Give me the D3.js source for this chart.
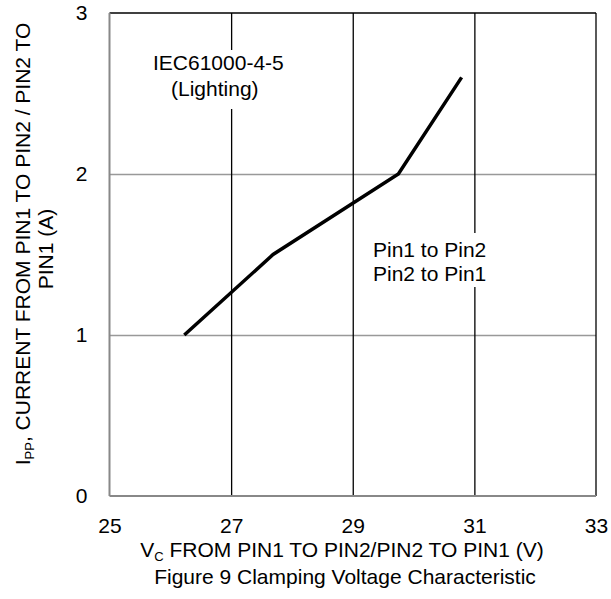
<!DOCTYPE html>
<html>
<head>
<meta charset="utf-8">
<script src="https://cdn.jsdelivr.net/npm/d3@7"></script>
<style>
  body { margin: 0; background: #fff; }
  text { font-family: "Liberation Sans", Arial, sans-serif; fill: #000; }
</style>
</head>
<body>
<svg id="chart" width="611" height="599"></svg>
<script>
// values
const vc = [26.23, 27.69, 29.75, 30.79];
const ipp = [1.0, 1.5, 2.0, 2.6];
const xTicks = [25, 27, 29, 31, 33];
const yTicks = [0, 1, 2, 3];

const width = 611, height = 599;
const margin = {top: 13, right: 15, bottom: 103, left: 109.5};

const svg = d3.select("#chart");

const x = d3.scaleLinear()
    .domain([25, 33])
    .range([margin.left, width - margin.right]);

const y = d3.scaleLinear()
    .domain([0, 3])
    .range([height - margin.bottom, margin.top]);

// horizontal grid, grey
svg.append("g")
    .attr("transform", `translate(${margin.left},0)`)
    .call(d3.axisLeft(y).tickValues([1, 2]).tickSize(-(x(33) - x(25))).tickFormat(""))
    .call(g => g.select(".domain").remove())
    .call(g => g.selectAll(".tick line").attr("stroke", "#999").attr("stroke-width", 1.6));

// vertical grid, black
svg.append("g")
    .attr("transform", `translate(0,${margin.top})`)
    .call(d3.axisTop(x).tickValues([27, 29, 31]).tickSize(-(y(0) - y(3))).tickFormat(""))
    .call(g => g.select(".domain").remove())
    .call(g => g.selectAll(".tick line").attr("stroke", "#000").attr("stroke-width", 1.3));

// frame: top and right black, left and bottom grey
svg.append("line")
    .attr("x1", x(25)).attr("x2", x(33)).attr("y1", y(3)).attr("y2", y(3))
    .attr("stroke", "#000").attr("stroke-width", 1.3);
svg.append("line")
    .attr("x1", x(33)).attr("x2", x(33)).attr("y1", y(3)).attr("y2", y(0))
    .attr("stroke", "#000").attr("stroke-width", 1.3);
svg.append("line")
    .attr("x1", x(25)).attr("x2", x(25)).attr("y1", y(3)).attr("y2", y(0))
    .attr("stroke", "#888").attr("stroke-width", 2);
svg.append("line")
    .attr("x1", x(25)).attr("x2", x(33)).attr("y1", y(0)).attr("y2", y(0))
    .attr("stroke", "#888").attr("stroke-width", 2);

// tick labels
svg.append("g")
    .attr("transform", `translate(0,${y(0)})`)
    .call(d3.axisBottom(x).tickValues(xTicks).tickSize(0).tickPadding(22))
    .call(g => g.select(".domain").remove())
    .call(g => g.selectAll("text").attr("font-size", 21).attr("font-family", "Liberation Sans, Arial, sans-serif"));

svg.append("g")
    .attr("transform", `translate(${margin.left},0)`)
    .call(d3.axisLeft(y).tickValues(yTicks).tickFormat(d3.format("d")).tickSize(0).tickPadding(22))
    .call(g => g.select(".domain").remove())
    .call(g => g.selectAll("text").attr("font-size", 21).attr("font-family", "Liberation Sans, Arial, sans-serif"));

// annotations with white boxes over the grid
svg.append("rect").attr("x", 150).attr("y", 50).attr("width", 140).attr("height", 59).attr("fill", "#fff");
svg.append("text").attr("x", 153).attr("y", 70).attr("font-size", 21).text("IEC61000-4-5");
svg.append("text").attr("x", 171).attr("y", 96).attr("font-size", 21).text("(Lighting)");

svg.append("rect").attr("x", 370).attr("y", 233).attr("width", 122).attr("height", 54).attr("fill", "#fff");
svg.append("text").attr("x", 373).attr("y", 256.5).attr("font-size", 21).text("Pin1 to Pin2");
svg.append("text").attr("x", 373).attr("y", 280.5).attr("font-size", 21).text("Pin2 to Pin1");

// curve
const pts = vc.map((v, i) => [v, ipp[i]]);
svg.append("path")
    .datum(pts)
    .attr("fill", "none")
    .attr("stroke", "#000")
    .attr("stroke-width", 3.5)
    .attr("d", d3.line().x(d => x(d[0])).y(d => y(d[1])));

// x title
const xt = svg.append("text").attr("x", 342).attr("y", 557).attr("font-size", 21).attr("text-anchor", "middle");
xt.append("tspan").text("V");
xt.append("tspan").attr("font-size", 13).attr("dy", 4).text("C");
xt.append("tspan").attr("dy", -4).text(" FROM PIN1 TO PIN2/PIN2 TO PIN1 (V)");

svg.append("text").attr("x", 345).attr("y", 584).attr("font-size", 21)
    .attr("text-anchor", "middle").text("Figure 9 Clamping Voltage Characteristic");

// y title, two lines
const yt = svg.append("text")
    .attr("transform", "translate(30,244) rotate(-90)")
    .attr("font-size", 21).attr("text-anchor", "middle");
yt.append("tspan").text("I");
yt.append("tspan").attr("font-size", 13).attr("dy", 4).text("PP");
yt.append("tspan").attr("dy", -4).text(", CURRENT FROM PIN1 TO PIN2 / PIN2 TO");

svg.append("text")
    .attr("transform", "translate(53,249) rotate(-90)")
    .attr("font-size", 21).attr("text-anchor", "middle").text("PIN1 (A)");
</script>
</body>
</html>
